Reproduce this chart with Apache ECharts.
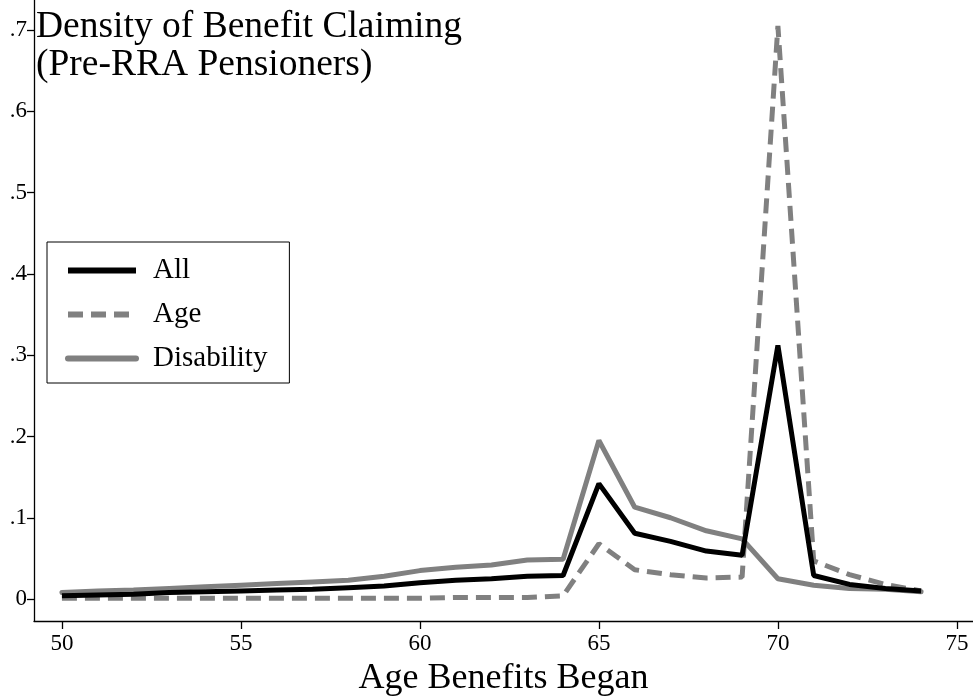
<!DOCTYPE html>
<html>
<head>
<meta charset="utf-8">
<script src="https://cdn.jsdelivr.net/npm/echarts@6/dist/echarts.min.js"></script>
<style>
  html, body { margin: 0; padding: 0; background: #fff; }
  #chart { width: 973px; height: 698px; }
</style>
</head>
<body>
<div id="chart"></div>
<script>
// age at which benefits began
const ages = [50, 51, 52, 53, 54, 55, 56, 57, 58, 59, 60, 61, 62, 63, 64, 65, 66, 67, 68, 69, 70, 71, 72, 73, 74];

const allVals = [0.004, 0.005, 0.006, 0.008, 0.009, 0.010, 0.011, 0.012, 0.014, 0.016, 0.020, 0.023, 0.025, 0.028, 0.029,
  0.142, 0.081, 0.071, 0.059, 0.054, 0.312, 0.029, 0.018, 0.013, 0.010];
const ageVals = [0.001, 0.001, 0.001, 0.001, 0.001, 0.001, 0.001, 0.001, 0.001, 0.001, 0.001, 0.002, 0.002, 0.002, 0.004,
  0.068, 0.036, 0.030, 0.026, 0.027, 0.705, 0.047, 0.030, 0.018, 0.010];
const disVals = [0.008, 0.010, 0.011, 0.013, 0.015, 0.017, 0.019, 0.021, 0.023, 0.028, 0.035, 0.039, 0.042, 0.048, 0.049,
  0.195, 0.113, 0.100, 0.084, 0.074, 0.025, 0.017, 0.013, 0.012, 0.009];

const xTicks = [50, 55, 60, 65, 70, 75];
const yTicks = [0, 0.1, 0.2, 0.3, 0.4, 0.5, 0.6, 0.7];

const pairs = vals => ages.map((a, i) => [a, vals[i]]);
const font = 'Liberation Serif';
const gray = '#808080';

const chart = echarts.init(document.getElementById('chart'));
chart.setOption({
  animation: false,
  backgroundColor: '#fff',
  textStyle: { fontFamily: font },
  title: {
    text: 'Density of Benefit Claiming\n(Pre-RRA Pensioners)',
    left: 36, top: 8, padding: 0,
    textStyle: { fontFamily: font, fontSize: 37.5, fontWeight: 'normal', color: '#000', lineHeight: 38 }
  },
  legend: {
    orient: 'vertical',
    left: 47, top: 242,
    padding: [14, 22, 10, 18],
    borderColor: '#000', borderWidth: 1,
    itemWidth: 68, itemHeight: 28, itemGap: 15,
    itemStyle: { opacity: 0 },
    textStyle: { fontFamily: font, fontSize: 29, color: '#000', padding: [0, 0, 0, 12] },
    data: [
      { name: 'All', lineStyle: { color: '#000', width: 6 } },
      { name: 'Age', lineStyle: { color: gray, width: 6, type: [15, 8] } },
      { name: 'Disability', lineStyle: { color: gray, width: 6 } }
    ]
  },
  grid: { left: 34, right: 0, top: 0, bottom: 77, outerBoundsMode: 'none' },
  xAxis: {
    type: 'value',
    min: 49.22, max: 75.45,
    name: 'Age Benefits Began',
    nameLocation: 'middle', nameGap: 40,
    nameTextStyle: { fontFamily: font, fontSize: 36, color: '#000' },
    axisLine: { onZero: false, lineStyle: { color: '#000', width: 1.3 } },
    axisTick: { customValues: xTicks, length: 8, lineStyle: { color: '#000', width: 1.3 } },
    axisLabel: { customValues: xTicks, fontFamily: font, fontSize: 23, color: '#000', margin: 11 },
    splitLine: { show: false }
  },
  yAxis: {
    type: 'value',
    min: -0.027, max: 0.737,
    axisLine: { show: true, lineStyle: { color: '#000', width: 1.3 } },
    axisTick: { show: true, customValues: yTicks, length: 7, lineStyle: { color: '#000', width: 1.3 } },
    axisLabel: {
      customValues: yTicks, fontFamily: font, fontSize: 23, color: '#000', margin: 7,
      formatter: v => v === 0 ? '0' : '.' + Math.round(v * 10)
    },
    splitLine: { show: false }
  },
  series: [
    {
      name: 'Disability', type: 'line', data: pairs(disVals),
      symbol: 'none', color: gray,
      lineStyle: { color: gray, width: 5, cap: 'round' }
    },
    {
      name: 'Age', type: 'line', data: pairs(ageVals),
      symbol: 'none', color: gray,
      lineStyle: { color: gray, width: 5, type: [15, 8] }
    },
    {
      name: 'All', type: 'line', data: pairs(allVals),
      symbol: 'none', color: '#000',
      lineStyle: { color: '#000', width: 5 }
    }
  ]
});
</script>
</body>
</html>
